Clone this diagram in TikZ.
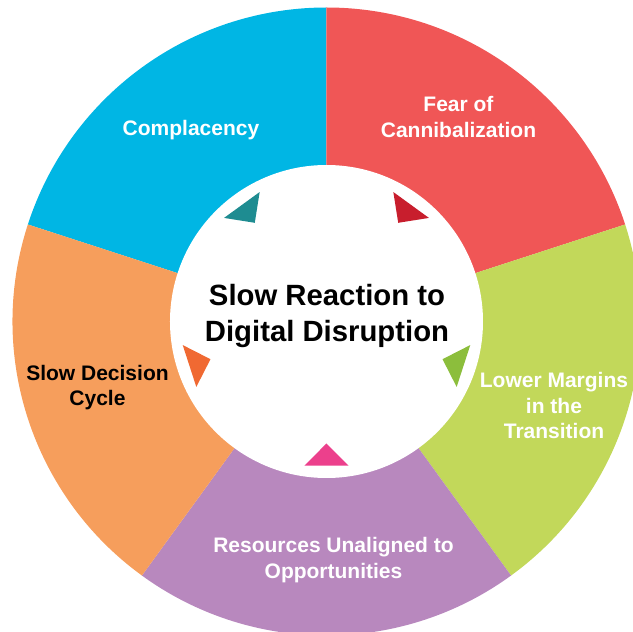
\documentclass[tikz,border=0pt]{standalone}
\usepackage{fontspec}
\setmainfont{Liberation Sans}
\definecolor{segblue}{HTML}{00B6E4}
\definecolor{segred}{HTML}{F05656}
\definecolor{seggreen}{HTML}{C2D85A}
\definecolor{segpurple}{HTML}{B888BE}
\definecolor{segorange}{HTML}{F69E5C}
\definecolor{tritel}{HTML}{1E8C91}
\definecolor{trired}{HTML}{C81E2D}
\definecolor{trigreen}{HTML}{8CBE3C}
\definecolor{tripink}{HTML}{EC408C}
\definecolor{triorange}{HTML}{F06932}
\begin{document}
\begin{tikzpicture}[x=1pt,y=1pt,
  seglabel/.style={font=\fontsize{21}{25.5}\selectfont\bfseries, align=center, inner sep=0pt, anchor=base, text=white},
  titlelabel/.style={font=\fontsize{29.3}{35.7}\selectfont\bfseries, align=center, inner sep=0pt, anchor=base, text=black},
  hubcircle/.style={circle, fill=white, minimum size=313pt, inner sep=0pt}]
\useasboundingbox (-326.5,-310.5) rectangle (306.5,321.5);
\def\rout{314}
\foreach \a/\b/\c in {90/162/segblue, 18/90/segred, -54/18/seggreen, -126/-54/segpurple, 162/234/segorange}
  \fill[\c] (0,0) -- (\a:\rout) arc[start angle=\a, end angle=\b, radius=\rout] -- cycle;
\node[hubcircle] (hub) at (0,0) {};
\foreach \t/\c in {126/tritel, 54/trired, -18/trigreen, -90/tripink, 198/triorange}
  \fill[\c] (\t+8.69:145.7) -- (\t:122) -- (\t-8.69:145.7) -- cycle;
\node[seglabel] (complacency) at (-135.5,185.5) {Complacency};
\node[seglabel] (fear) at (132,184) {Fear of\\Cannibalization};
\node[seglabel] (margins) at (227.5,-117.5) {Lower Margins\\in the\\Transition};
\node[seglabel] (resources) at (7,-256.8) {Resources Unaligned to\\Opportunities};
\node[seglabel, text=black] (decision) at (-229,-84.5) {Slow Decision\\Cycle};
\node[titlelabel] (title) at (0.5,-20.2) {Slow Reaction to\\Digital Disruption};
\end{tikzpicture}
\end{document}
